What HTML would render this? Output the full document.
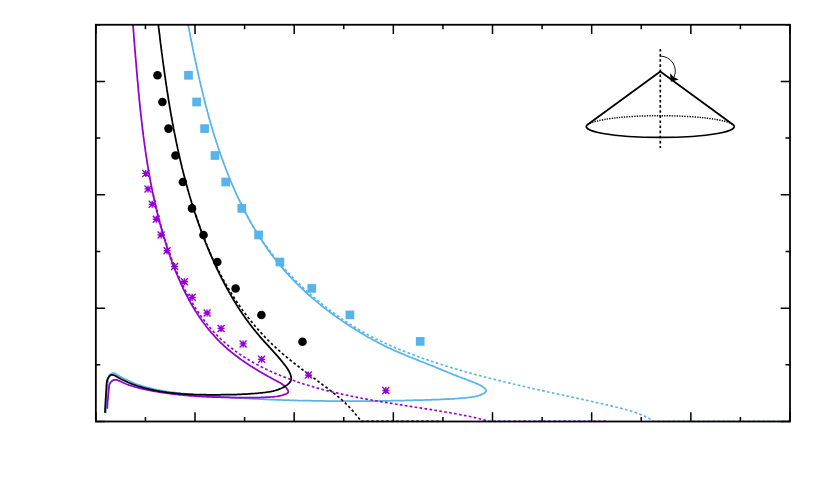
<!DOCTYPE html>
<html><head><meta charset="utf-8"><title>chart</title>
<style>html,body{margin:0;padding:0;background:#fff;overflow:hidden;font-family:"Liberation Sans",sans-serif;}svg{display:block;position:absolute;left:0;top:0}</style></head>
<body>
<svg width="830" height="498" viewBox="0 0 830 498">
<rect width="830" height="498" fill="#ffffff"/>
<defs><clipPath id="c"><rect x="95.85" y="24.75" width="694.15" height="397.75"/></clipPath></defs>
<g clip-path="url(#c)" fill="none" stroke-linejoin="round">
<path d="M183.5 -0.0L183.7 1.2L183.9 2.4L184.1 3.5L184.3 4.7L184.6 5.9L184.8 7.1L185.0 8.3L185.2 9.5L185.5 10.6L185.7 11.8L185.9 13.0L186.1 14.2L186.4 15.4L186.6 16.6L186.8 17.7L187.0 18.9L187.3 20.1L187.5 21.3L187.7 22.5L187.9 23.7L188.2 24.8L188.4 26.0L188.6 27.2L188.9 28.4L189.1 29.6L189.3 30.7L189.5 31.9L189.8 33.1L190.0 34.3L190.2 35.5L190.5 36.7L190.7 37.8L190.9 39.0L191.2 40.2L191.4 41.4L191.6 42.6L191.9 43.7L192.1 44.9L192.3 46.1L192.6 47.3L192.8 48.4L193.1 49.6L193.3 50.8L193.5 52.0L193.8 53.2L194.0 54.3L194.3 55.5L194.5 56.7L194.8 57.9L195.0 59.0L195.3 60.2L195.5 61.4L195.8 62.6L196.0 63.8L196.3 64.9L196.5 66.1L196.8 67.3L197.0 68.5L197.3 69.6L197.5 70.8L197.8 72.0L198.1 73.1L198.3 74.3L198.6 75.5L198.8 76.7L199.1 77.8L199.4 79.0L199.6 80.2L199.9 81.3L200.2 82.5L200.5 83.7L200.7 84.9L201.0 86.0L201.3 87.2L201.6 88.4L201.8 89.5L202.1 90.7L202.4 91.9L202.7 93.0L203.0 94.2L203.3 95.4L203.5 96.5L203.8 97.7L204.1 98.9L204.4 100.0L204.7 101.2L205.0 102.3L205.3 103.5L205.6 104.7L205.9 105.8L206.2 107.0L206.5 108.1L206.8 109.3L207.1 110.5L207.4 111.6L207.8 112.8L208.1 113.9L208.4 115.1L208.7 116.3L209.0 117.4L209.3 118.6L209.7 119.7L210.0 120.9L210.3 122.0L210.7 123.2L211.0 124.3L211.3 125.5L211.7 126.6L212.0 127.8L212.3 128.9L212.7 130.1L213.0 131.2L213.4 132.4L213.7 133.5L214.1 134.7L214.4 135.8L214.8 137.0L215.2 138.1L215.5 139.3L215.9 140.4L216.2 141.5L216.6 142.7L217.0 143.8L217.4 145.0L217.7 146.1L218.1 147.2L218.5 148.4L218.9 149.5L219.3 150.7L219.7 151.8L220.0 152.9L220.4 154.1L220.8 155.2L221.2 156.3L221.6 157.5L222.0 158.6L222.4 159.7L222.9 160.9L223.3 162.0L223.7 163.1L224.1 164.3L224.5 165.4L225.0 166.5L225.4 167.6L225.8 168.8L226.2 169.9L226.7 171.0L227.1 172.1L227.6 173.3L228.0 174.4L228.5 175.5L228.9 176.6L229.4 177.7L229.8 178.9L230.3 180.0L230.7 181.1L231.2 182.2L231.7 183.3L232.1 184.4L232.6 185.5L233.1 186.6L233.6 187.7L234.1 188.9L234.5 190.0L235.0 191.1L235.5 192.2L236.0 193.3L236.5 194.4L237.0 195.5L237.5 196.6L238.1 197.7L238.6 198.8L239.1 199.8L239.6 200.9L240.1 202.0L240.7 203.1L241.2 204.2L241.7 205.3L242.3 206.4L242.8 207.4L243.3 208.5L243.9 209.6L244.4 210.7L245.0 211.7L245.6 212.8L246.1 213.9L246.7 214.9L247.3 216.0L247.8 217.1L248.4 218.1L249.0 219.2L249.6 220.2L250.1 221.3L250.7 222.3L251.3 223.4L251.9 224.4L252.5 225.5L253.1 226.5L253.7 227.6L254.4 228.6L255.0 229.6L255.6 230.7L256.2 231.7L256.8 232.7L257.5 233.8L258.1 234.8L258.8 235.8L259.4 236.8L260.0 237.8L260.7 238.8L261.3 239.8L262.0 240.8L262.7 241.8L263.3 242.8L264.0 243.8L264.7 244.8L265.4 245.8L266.0 246.8L266.7 247.8L267.4 248.8L268.1 249.8L268.8 250.7L269.5 251.7L270.2 252.7L270.9 253.6L271.7 254.6L272.4 255.6L273.1 256.5L273.8 257.5L274.6 258.4L275.3 259.4L276.0 260.3L276.8 261.2L277.5 262.2L278.3 263.1L279.0 264.0L279.8 265.0L280.6 265.9L281.3 266.8L282.1 267.7L282.9 268.6L283.7 269.5L284.5 270.4L285.2 271.3L286.0 272.2L286.8 273.1L287.6 274.0L288.5 274.9L289.3 275.8L290.1 276.7L290.9 277.5L291.7 278.4L292.6 279.3L293.4 280.1L294.2 281.0L295.1 281.8L295.9 282.7L296.7 283.6L297.6 284.4L298.4 285.2L299.3 286.1L300.2 286.9L301.0 287.7L301.9 288.6L302.8 289.4L303.6 290.2L304.5 291.0L305.4 291.9L306.3 292.7L307.2 293.5L308.1 294.3L309.0 295.1L309.9 295.9L310.8 296.7L311.7 297.5L312.6 298.2L313.5 299.0L314.4 299.8L315.3 300.6L316.2 301.4L317.2 302.1L318.1 302.9L319.0 303.6L320.0 304.4L320.9 305.2L321.8 305.9L322.8 306.7L323.7 307.4L324.7 308.2L325.6 308.9L326.6 309.6L327.5 310.4L328.5 311.1L329.5 311.8L330.4 312.5L331.4 313.2L332.4 314.0L333.3 314.7L334.3 315.4L335.3 316.1L336.3 316.8L337.2 317.5L338.2 318.2L339.2 318.9L340.2 319.6L341.2 320.2L342.2 320.9L343.2 321.6L344.2 322.3L345.2 322.9L346.2 323.6L347.2 324.3L348.2 324.9L349.2 325.6L350.2 326.3L351.2 326.9L352.2 327.5L353.3 328.2L354.3 328.8L355.3 329.5L356.3 330.1L357.4 330.7L358.4 331.4L359.4 332.0L360.4 332.6L361.5 333.2L362.5 333.8L363.5 334.5L364.6 335.1L365.6 335.7L366.7 336.3L367.7 336.9L368.8 337.5L369.8 338.0L370.9 338.6L371.9 339.2L373.0 339.8L374.0 340.4L375.1 340.9L376.1 341.5L377.2 342.1L378.3 342.6L379.3 343.2L380.4 343.7L381.5 344.3L382.5 344.8L383.6 345.4L384.7 345.9L385.8 346.4L386.8 346.9L387.9 347.5L389.0 348.0L390.1 348.5L391.2 349.0L392.3 349.5L393.4 350.0L394.4 350.5L395.5 351.0L396.6 351.5L397.7 351.9L398.8 352.4L399.9 352.9L401.1 353.4L402.2 353.8L403.3 354.3L404.4 354.8L405.5 355.2L406.6 355.7L407.7 356.1L408.8 356.6L409.9 357.0L411.1 357.5L412.2 357.9L413.3 358.4L414.4 358.8L415.5 359.2L416.6 359.7L417.8 360.1L418.9 360.6L420.0 361.0L421.1 361.5L422.2 361.9L423.3 362.3L424.5 362.8L425.6 363.2L426.7 363.7L427.8 364.1L428.9 364.6L430.0 365.0L431.2 365.5L432.3 365.9L433.4 366.4L434.5 366.8L435.6 367.3L436.7 367.7L437.8 368.2L438.9 368.6L440.1 369.1L441.2 369.6L442.3 370.0L443.4 370.5L444.5 370.9L445.6 371.4L446.7 371.8L447.8 372.3L448.9 372.8L450.1 373.2L451.2 373.7L452.3 374.1L453.4 374.6L454.5 375.0L455.6 375.4L456.7 375.9L457.9 376.3L459.0 376.8L460.1 377.2L461.2 377.6L462.3 378.1L463.5 378.5L464.6 378.9L465.7 379.3L466.8 379.7L467.9 380.2L469.1 380.6L470.2 381.0L471.3 381.4L472.5 381.8L473.6 382.2L474.7 382.7L475.8 383.1L476.9 383.6L478.0 384.2L479.2 384.7L480.3 385.3L481.3 386.0L482.4 386.6L483.5 387.4L484.5 388.2L485.3 389.0L485.9 389.8L486.1 390.6L485.9 391.4L485.3 392.2L484.4 392.9L483.4 393.5L482.3 394.1L481.2 394.7L480.0 395.1L478.9 395.5L477.7 395.9L476.5 396.2L475.3 396.5L474.2 396.7L473.0 396.9L471.8 397.1L470.6 397.3L469.3 397.4L468.1 397.5L466.9 397.7L465.7 397.8L464.5 397.9L463.3 398.0L462.1 398.1L460.9 398.2L459.7 398.3L458.5 398.4L457.3 398.5L456.1 398.6L454.9 398.7L453.7 398.8L452.5 398.8L451.3 398.9L450.1 399.0L448.9 399.0L447.6 399.1L446.4 399.2L445.2 399.2L444.0 399.3L442.8 399.3L441.6 399.4L440.4 399.4L439.2 399.5L438.0 399.5L436.8 399.6L435.6 399.6L434.4 399.6L433.2 399.7L432.0 399.7L430.8 399.8L429.6 399.8L428.4 399.8L427.2 399.9L426.0 399.9L424.8 399.9L423.6 400.0L422.4 400.0L421.2 400.0L420.0 400.1L418.8 400.1L417.6 400.1L416.4 400.2L415.2 400.2L414.0 400.2L412.8 400.3L411.6 400.3L410.4 400.3L409.2 400.4L408.0 400.4L406.8 400.4L405.6 400.4L404.4 400.5L403.2 400.5L402.0 400.5L400.8 400.5L399.6 400.6L398.4 400.6L397.2 400.6L396.0 400.6L394.8 400.7L393.6 400.7L392.4 400.7L391.2 400.7L390.0 400.8L388.8 400.8L387.6 400.8L386.4 400.8L385.2 400.8L384.0 400.8L382.8 400.9L381.6 400.9L380.4 400.9L379.2 400.9L378.0 400.9L376.8 400.9L375.6 401.0L374.4 401.0L373.2 401.0L372.0 401.0L370.8 401.0L369.6 401.0L368.4 401.0L367.2 401.0L366.0 401.0L364.8 401.1L363.6 401.1L362.4 401.1L361.2 401.1L360.0 401.1L358.8 401.1L357.6 401.1L356.4 401.1L355.2 401.1L354.0 401.1L352.7 401.1L351.5 401.1L350.3 401.1L349.1 401.1L347.9 401.1L346.7 401.1L345.5 401.1L344.3 401.1L343.1 401.1L341.9 401.1L340.7 401.1L339.5 401.1L338.3 401.1L337.1 401.1L335.9 401.1L334.7 401.1L333.5 401.0L332.3 401.0L331.1 401.0L329.9 401.0L328.7 401.0L327.5 401.0L326.3 401.0L325.1 401.0L323.9 400.9L322.7 400.9L321.5 400.9L320.3 400.9L319.1 400.9L317.9 400.9L316.7 400.8L315.5 400.8L314.3 400.8L313.1 400.8L311.9 400.8L310.7 400.7L309.5 400.7L308.3 400.7L307.1 400.7L305.9 400.6L304.7 400.6L303.5 400.6L302.3 400.6L301.1 400.5L299.9 400.5L298.7 400.5L297.5 400.5L296.3 400.4L295.1 400.4L293.9 400.4L292.7 400.3L291.5 400.3L290.3 400.3L289.1 400.2L287.9 400.2L286.7 400.1L285.5 400.1L284.3 400.1L283.1 400.0L281.9 400.0L280.7 399.9L279.5 399.9L278.3 399.9L277.1 399.8L275.9 399.8L274.7 399.7L273.5 399.7L272.3 399.6L271.1 399.6L269.9 399.5L268.7 399.5L267.5 399.4L266.3 399.4L265.1 399.3L263.9 399.3L262.7 399.2L261.5 399.2L260.3 399.1L259.1 399.1L257.9 399.0L256.7 398.9L255.5 398.9L254.3 398.8L253.1 398.8L251.9 398.7L250.7 398.6L249.5 398.6L248.3 398.5L247.0 398.4L245.8 398.4L244.6 398.3L243.4 398.2L242.2 398.2L241.0 398.1L239.8 398.0L238.6 398.0L237.4 397.9L236.2 397.8L235.0 397.7L233.8 397.7L232.6 397.6L231.4 397.5L230.2 397.4L229.0 397.4L227.8 397.3L226.6 397.2L225.4 397.1L224.2 397.0L223.0 396.9L221.8 396.9L220.6 396.8L219.4 396.7L218.2 396.6L217.0 396.5L215.8 396.4L214.6 396.3L213.4 396.2L212.2 396.1L211.0 396.1L209.8 396.0L208.6 395.9L207.4 395.8L206.2 395.7L205.0 395.6L203.8 395.5L202.6 395.4L201.4 395.3L200.1 395.2L198.9 395.1L197.7 395.0L196.5 394.9L195.3 394.8L194.1 394.6L192.9 394.5L191.7 394.4L190.5 394.3L189.3 394.2L188.1 394.1L186.9 394.0L185.7 393.9L184.5 393.7L183.3 393.6L182.1 393.5L180.9 393.3L179.7 393.2L178.5 393.1L177.3 392.9L176.1 392.8L174.9 392.6L173.7 392.5L172.5 392.3L171.3 392.2L170.2 392.0L169.0 391.8L167.8 391.6L166.6 391.5L165.4 391.3L164.2 391.1L163.0 390.9L161.9 390.7L160.7 390.5L159.5 390.2L158.3 390.0L157.2 389.8L156.0 389.5L154.8 389.3L153.7 389.0L152.5 388.7L151.3 388.5L150.2 388.2L149.0 387.9L147.9 387.6L146.7 387.3L145.6 387.0L144.4 386.6L143.3 386.3L142.2 386.0L141.0 385.6L139.9 385.2L138.8 384.9L137.7 384.5L136.5 384.1L135.4 383.7L134.3 383.2L133.2 382.8L132.1 382.4L131.0 381.9L129.9 381.4L128.8 380.9L127.7 380.4L126.6 379.9L125.5 379.4L124.4 378.8L123.3 378.3L122.2 377.7L121.2 377.1L120.1 376.5L119.0 375.8L117.9 375.2L116.9 374.5L115.8 373.9L114.8 373.4L113.7 373.2L112.6 373.2L111.6 373.5L110.7 374.1L109.8 374.9L109.2 375.9L108.7 377.0L108.4 378.2L108.1 379.5L108.0 380.8L107.8 382.1L107.6 383.4L107.5 384.6L107.4 385.9L107.3 387.1L107.1 388.2L107.0 389.4L106.9 390.6L106.8 391.7L106.7 392.9L106.7 394.0L106.6 395.2L106.5 396.4L106.4 397.6L106.4 398.7L106.3 399.9L106.2 401.1L106.2 402.4L106.1 403.6L106.0 404.8L106.0 406.0L105.9 407.2L105.9 408.4L105.9 409.6L105.8 410.8L105.8 412.0L105.8 413.2" stroke="#56B4E9" stroke-width="1.75"/>
<path d="M130.8 -0.0L130.9 1.2L131.0 2.4L131.1 3.6L131.2 4.8L131.3 6.0L131.4 7.2L131.5 8.4L131.6 9.6L131.7 10.8L131.8 12.0L132.0 13.2L132.1 14.4L132.2 15.6L132.3 16.8L132.4 18.0L132.5 19.2L132.6 20.4L132.7 21.6L132.8 22.8L132.9 24.0L133.0 25.2L133.1 26.4L133.2 27.6L133.3 28.8L133.4 30.0L133.5 31.2L133.6 32.4L133.7 33.6L133.8 34.8L133.8 36.0L133.9 37.2L134.0 38.4L134.1 39.6L134.2 40.8L134.3 42.0L134.4 43.2L134.5 44.4L134.6 45.6L134.7 46.8L134.8 48.0L134.9 49.2L135.0 50.4L135.1 51.6L135.2 52.8L135.3 54.0L135.4 55.2L135.5 56.4L135.6 57.6L135.7 58.8L135.8 60.0L135.9 61.2L136.0 62.4L136.1 63.6L136.2 64.8L136.3 66.0L136.4 67.2L136.5 68.4L136.6 69.6L136.7 70.8L136.8 72.0L136.9 73.2L137.0 74.4L137.1 75.6L137.2 76.8L137.3 78.0L137.4 79.2L137.5 80.4L137.6 81.6L137.8 82.8L137.9 84.0L138.0 85.2L138.1 86.4L138.2 87.6L138.3 88.8L138.4 90.0L138.5 91.2L138.6 92.4L138.7 93.6L138.9 94.8L139.0 96.0L139.1 97.2L139.2 98.4L139.3 99.6L139.4 100.8L139.6 102.0L139.7 103.2L139.8 104.4L139.9 105.6L140.0 106.8L140.2 108.0L140.3 109.2L140.4 110.4L140.5 111.5L140.7 112.7L140.8 113.9L140.9 115.1L141.1 116.3L141.2 117.5L141.3 118.7L141.5 119.9L141.6 121.1L141.7 122.3L141.9 123.5L142.0 124.7L142.2 125.9L142.3 127.1L142.4 128.3L142.6 129.5L142.7 130.7L142.9 131.8L143.0 133.0L143.2 134.2L143.3 135.4L143.5 136.6L143.6 137.8L143.8 139.0L144.0 140.2L144.1 141.4L144.3 142.6L144.4 143.8L144.6 144.9L144.8 146.1L144.9 147.3L145.1 148.5L145.3 149.7L145.4 150.9L145.6 152.1L145.8 153.3L146.0 154.5L146.1 155.6L146.3 156.8L146.5 158.0L146.7 159.2L146.9 160.4L147.1 161.6L147.2 162.8L147.4 163.9L147.6 165.1L147.8 166.3L148.0 167.5L148.2 168.7L148.4 169.9L148.6 171.0L148.8 172.2L149.0 173.4L149.2 174.6L149.5 175.8L149.7 177.0L149.9 178.1L150.1 179.3L150.3 180.5L150.5 181.7L150.8 182.9L151.0 184.0L151.2 185.2L151.5 186.4L151.7 187.6L151.9 188.8L152.2 189.9L152.4 191.1L152.6 192.3L152.9 193.5L153.1 194.6L153.4 195.8L153.6 197.0L153.9 198.2L154.1 199.3L154.4 200.5L154.7 201.7L154.9 202.9L155.2 204.0L155.4 205.2L155.7 206.4L156.0 207.5L156.3 208.7L156.5 209.9L156.8 211.0L157.1 212.2L157.4 213.4L157.7 214.6L158.0 215.7L158.3 216.9L158.6 218.1L158.9 219.2L159.2 220.4L159.5 221.6L159.8 222.7L160.1 223.9L160.4 225.0L160.7 226.2L161.0 227.4L161.4 228.5L161.7 229.7L162.0 230.9L162.4 232.0L162.7 233.2L163.0 234.3L163.4 235.5L163.7 236.7L164.1 237.8L164.4 239.0L164.8 240.1L165.1 241.3L165.5 242.4L165.8 243.6L166.2 244.8L166.6 245.9L166.9 247.1L167.3 248.2L167.7 249.4L168.1 250.5L168.5 251.7L168.8 252.8L169.2 254.0L169.6 255.1L170.0 256.3L170.4 257.4L170.8 258.6L171.2 259.7L171.7 260.8L172.1 262.0L172.5 263.1L172.9 264.3L173.3 265.4L173.8 266.5L174.2 267.7L174.7 268.8L175.1 269.9L175.5 271.1L176.0 272.2L176.5 273.3L176.9 274.4L177.4 275.5L177.9 276.7L178.3 277.8L178.8 278.9L179.3 280.0L179.8 281.1L180.3 282.2L180.8 283.3L181.3 284.4L181.8 285.5L182.3 286.6L182.8 287.7L183.3 288.8L183.8 289.9L184.4 291.0L184.9 292.0L185.4 293.1L186.0 294.2L186.5 295.3L187.1 296.3L187.7 297.4L188.2 298.5L188.8 299.5L189.4 300.6L189.9 301.6L190.5 302.7L191.1 303.7L191.7 304.7L192.3 305.8L192.9 306.8L193.5 307.8L194.2 308.9L194.8 309.9L195.4 310.9L196.1 311.9L196.7 312.9L197.3 313.9L198.0 314.9L198.7 315.9L199.3 316.9L200.0 317.9L200.7 318.9L201.4 319.8L202.0 320.8L202.7 321.8L203.4 322.7L204.2 323.7L204.9 324.6L205.6 325.6L206.3 326.5L207.1 327.5L207.8 328.4L208.5 329.3L209.3 330.2L210.1 331.1L210.8 332.1L211.6 333.0L212.4 333.9L213.2 334.7L214.0 335.6L214.8 336.5L215.6 337.4L216.4 338.3L217.2 339.1L218.0 340.0L218.9 340.8L219.7 341.7L220.5 342.5L221.4 343.3L222.3 344.2L223.1 345.0L224.0 345.8L224.9 346.6L225.8 347.4L226.7 348.2L227.6 349.0L228.5 349.8L229.4 350.5L230.4 351.3L231.3 352.1L232.2 352.8L233.2 353.6L234.1 354.3L235.1 355.1L236.0 355.8L237.0 356.5L238.0 357.3L239.0 358.0L239.9 358.7L240.9 359.4L241.9 360.1L242.9 360.8L243.9 361.5L244.9 362.2L245.9 362.9L246.9 363.5L248.0 364.2L249.0 364.9L250.0 365.5L251.0 366.2L252.1 366.8L253.1 367.5L254.1 368.1L255.2 368.8L256.2 369.4L257.3 370.1L258.3 370.7L259.3 371.3L260.4 371.9L261.5 372.5L262.5 373.2L263.6 373.8L264.6 374.4L265.7 375.0L266.7 375.6L267.8 376.2L268.9 376.8L269.9 377.3L271.0 377.9L272.0 378.5L273.1 379.1L274.2 379.7L275.2 380.2L276.3 380.8L277.4 381.4L278.4 381.9L279.5 382.5L280.5 383.1L281.5 383.7L282.5 384.4L283.4 385.1L284.3 385.8L285.2 386.6L286.0 387.5L286.7 388.4L287.4 389.4L288.0 390.4L288.3 391.4L288.2 392.3L287.6 393.1L286.5 393.7L285.4 394.2L284.2 394.6L283.0 395.0L281.8 395.4L280.6 395.7L279.4 395.9L278.2 396.2L277.0 396.4L275.8 396.5L274.6 396.7L273.4 396.8L272.2 396.9L271.0 397.0L269.8 397.1L268.5 397.1L267.3 397.2L266.1 397.2L264.9 397.3L263.7 397.3L262.5 397.4L261.3 397.4L260.1 397.5L258.9 397.5L257.7 397.5L256.5 397.5L255.3 397.6L254.1 397.6L252.9 397.6L251.7 397.6L250.5 397.6L249.3 397.6L248.1 397.6L246.9 397.6L245.7 397.6L244.5 397.6L243.3 397.6L242.2 397.6L241.0 397.6L239.8 397.6L238.6 397.6L237.4 397.6L236.2 397.6L235.0 397.5L233.8 397.5L232.6 397.5L231.4 397.5L230.2 397.5L229.0 397.4L227.8 397.4L226.6 397.4L225.4 397.4L224.2 397.3L223.0 397.3L221.8 397.3L220.6 397.2L219.4 397.2L218.2 397.2L217.0 397.1L215.8 397.1L214.6 397.0L213.4 397.0L212.1 397.0L210.9 396.9L209.7 396.9L208.5 396.8L207.3 396.8L206.1 396.7L204.9 396.6L203.7 396.6L202.5 396.5L201.3 396.5L200.1 396.4L198.9 396.3L197.6 396.3L196.4 396.2L195.2 396.1L194.0 396.0L192.8 395.9L191.6 395.8L190.4 395.8L189.2 395.7L188.0 395.6L186.8 395.5L185.6 395.4L184.4 395.3L183.2 395.1L182.0 395.0L180.8 394.9L179.6 394.8L178.4 394.7L177.2 394.5L176.0 394.4L174.8 394.3L173.6 394.1L172.4 394.0L171.2 393.8L170.0 393.7L168.8 393.5L167.6 393.4L166.4 393.2L165.2 393.0L164.0 392.9L162.8 392.7L161.6 392.5L160.4 392.3L159.3 392.1L158.1 391.9L156.9 391.7L155.7 391.5L154.5 391.3L153.4 391.1L152.2 390.9L151.0 390.6L149.8 390.4L148.7 390.2L147.5 389.9L146.3 389.7L145.2 389.4L144.0 389.2L142.9 388.9L141.7 388.6L140.5 388.3L139.4 388.1L138.2 387.8L137.1 387.5L135.9 387.2L134.8 386.9L133.6 386.5L132.5 386.2L131.4 385.8L130.2 385.5L129.1 385.1L127.9 384.6L126.8 384.2L125.6 383.7L124.5 383.2L123.4 382.7L122.2 382.2L121.1 381.6L119.9 381.1L118.8 380.6L117.7 380.2L116.5 379.9L115.4 379.8L114.4 379.9L113.3 380.2L112.3 380.8L111.3 381.5L110.5 382.5L109.9 383.5L109.4 384.7L109.2 385.9L109.0 387.1L108.9 388.3L108.8 389.5L108.7 390.7L108.6 391.9L108.5 393.1L108.3 394.3L108.2 395.5L108.1 396.7L108.0 397.9L107.9 399.1L107.7 400.3L107.6 401.5L107.5 402.7L107.5 403.9L107.4 405.1L107.4 406.3L107.3 407.5L107.3 408.7" stroke="#9400D3" stroke-width="1.75"/>
<path d="M155.5 0.1L155.6 1.3L155.7 2.5L155.9 3.6L156.0 4.8L156.1 6.0L156.3 7.2L156.4 8.4L156.5 9.6L156.7 10.8L156.8 11.9L157.0 13.1L157.1 14.3L157.2 15.5L157.4 16.7L157.5 17.9L157.7 19.1L157.8 20.3L157.9 21.4L158.1 22.6L158.2 23.8L158.4 25.0L158.5 26.2L158.6 27.4L158.8 28.6L158.9 29.8L159.1 31.0L159.2 32.2L159.4 33.4L159.5 34.5L159.7 35.7L159.8 36.9L159.9 38.1L160.1 39.3L160.2 40.5L160.4 41.7L160.5 42.9L160.7 44.1L160.8 45.3L161.0 46.5L161.1 47.7L161.3 48.9L161.4 50.1L161.6 51.2L161.7 52.4L161.9 53.6L162.1 54.8L162.2 56.0L162.4 57.2L162.5 58.4L162.7 59.6L162.8 60.8L163.0 62.0L163.2 63.2L163.3 64.4L163.5 65.6L163.7 66.8L163.8 68.0L164.0 69.1L164.2 70.3L164.3 71.5L164.5 72.7L164.7 73.9L164.8 75.1L165.0 76.3L165.2 77.5L165.3 78.7L165.5 79.9L165.7 81.1L165.9 82.3L166.0 83.5L166.2 84.7L166.4 85.9L166.6 87.0L166.8 88.2L166.9 89.4L167.1 90.6L167.3 91.8L167.5 93.0L167.7 94.2L167.9 95.4L168.1 96.6L168.2 97.8L168.4 99.0L168.6 100.2L168.8 101.3L169.0 102.5L169.2 103.7L169.4 104.9L169.6 106.1L169.8 107.3L170.0 108.5L170.2 109.7L170.4 110.9L170.6 112.1L170.8 113.2L171.0 114.4L171.2 115.6L171.5 116.8L171.7 118.0L171.9 119.2L172.1 120.4L172.3 121.5L172.5 122.7L172.8 123.9L173.0 125.1L173.2 126.3L173.4 127.5L173.6 128.7L173.9 129.8L174.1 131.0L174.3 132.2L174.6 133.4L174.8 134.6L175.0 135.8L175.3 136.9L175.5 138.1L175.8 139.3L176.0 140.5L176.2 141.7L176.5 142.8L176.7 144.0L177.0 145.2L177.2 146.4L177.5 147.6L177.7 148.7L178.0 149.9L178.2 151.1L178.5 152.3L178.8 153.4L179.0 154.6L179.3 155.8L179.6 157.0L179.8 158.1L180.1 159.3L180.4 160.5L180.6 161.6L180.9 162.8L181.2 164.0L181.5 165.2L181.8 166.3L182.0 167.5L182.3 168.7L182.6 169.8L182.9 171.0L183.2 172.2L183.5 173.3L183.8 174.5L184.1 175.7L184.4 176.8L184.7 178.0L185.0 179.1L185.3 180.3L185.6 181.5L185.9 182.6L186.2 183.8L186.6 184.9L186.9 186.1L187.2 187.3L187.5 188.4L187.8 189.6L188.2 190.7L188.5 191.9L188.8 193.0L189.2 194.2L189.5 195.4L189.8 196.5L190.2 197.7L190.5 198.8L190.9 200.0L191.2 201.1L191.5 202.3L191.9 203.4L192.3 204.5L192.6 205.7L193.0 206.8L193.3 208.0L193.7 209.1L194.1 210.3L194.4 211.4L194.8 212.6L195.2 213.7L195.6 214.8L195.9 216.0L196.3 217.1L196.7 218.2L197.1 219.4L197.5 220.5L197.9 221.7L198.3 222.8L198.7 223.9L199.1 225.0L199.5 226.2L199.9 227.3L200.3 228.4L200.7 229.6L201.1 230.7L201.5 231.8L201.9 232.9L202.3 234.1L202.8 235.2L203.2 236.3L203.6 237.4L204.1 238.6L204.5 239.7L204.9 240.8L205.4 241.9L205.8 243.0L206.3 244.1L206.7 245.3L207.2 246.4L207.6 247.5L208.1 248.6L208.5 249.7L209.0 250.8L209.5 251.9L209.9 253.0L210.4 254.1L210.9 255.2L211.4 256.3L211.8 257.4L212.3 258.5L212.8 259.6L213.3 260.7L213.8 261.8L214.3 262.9L214.8 264.0L215.3 265.1L215.8 266.2L216.3 267.3L216.8 268.4L217.3 269.5L217.9 270.6L218.4 271.7L218.9 272.7L219.4 273.8L220.0 274.9L220.5 276.0L221.0 277.1L221.6 278.2L222.1 279.2L222.7 280.3L223.2 281.4L223.8 282.4L224.4 283.5L224.9 284.6L225.5 285.6L226.1 286.7L226.6 287.8L227.2 288.8L227.8 289.9L228.4 290.9L229.0 292.0L229.6 293.0L230.2 294.1L230.8 295.1L231.4 296.2L232.0 297.2L232.6 298.2L233.2 299.3L233.8 300.3L234.4 301.3L235.1 302.4L235.7 303.4L236.3 304.4L237.0 305.4L237.6 306.4L238.3 307.5L238.9 308.5L239.6 309.5L240.2 310.5L240.9 311.5L241.6 312.5L242.2 313.5L242.9 314.5L243.6 315.5L244.3 316.4L245.0 317.4L245.7 318.4L246.4 319.4L247.1 320.4L247.8 321.3L248.5 322.3L249.2 323.3L249.9 324.2L250.7 325.2L251.4 326.1L252.1 327.1L252.9 328.0L253.6 329.0L254.4 329.9L255.1 330.8L255.9 331.8L256.6 332.7L257.4 333.6L258.2 334.5L259.0 335.5L259.7 336.4L260.5 337.3L261.3 338.2L262.1 339.1L262.9 340.0L263.7 340.9L264.5 341.8L265.3 342.7L266.1 343.6L267.0 344.4L267.8 345.3L268.6 346.2L269.4 347.1L270.2 348.0L271.0 348.9L271.8 349.8L272.6 350.7L273.4 351.6L274.2 352.4L275.0 353.3L275.8 354.2L276.6 355.1L277.4 356.0L278.2 356.9L279.0 357.9L279.8 358.8L280.6 359.7L281.3 360.6L282.1 361.5L282.8 362.5L283.6 363.4L284.3 364.4L285.1 365.3L285.8 366.3L286.5 367.2L287.2 368.2L287.8 369.2L288.4 370.3L289.0 371.3L289.6 372.4L290.1 373.6L290.5 374.8L290.9 376.0L291.1 377.2L291.2 378.4L291.1 379.5L290.8 380.6L290.3 381.6L289.7 382.5L288.9 383.4L288.0 384.2L287.1 384.9L286.1 385.6L285.1 386.3L284.1 386.9L283.1 387.4L282.0 388.0L280.9 388.5L279.8 388.9L278.7 389.4L277.5 389.8L276.4 390.1L275.2 390.5L274.0 390.8L272.9 391.1L271.7 391.3L270.5 391.6L269.2 391.8L268.0 392.0L266.8 392.2L265.6 392.4L264.4 392.5L263.1 392.7L261.9 392.8L260.7 392.9L259.4 393.0L258.2 393.2L257.0 393.3L255.8 393.4L254.6 393.5L253.4 393.6L252.2 393.7L251.0 393.7L249.8 393.8L248.6 393.9L247.4 394.0L246.2 394.0L245.0 394.1L243.8 394.2L242.7 394.2L241.5 394.3L240.3 394.3L239.1 394.4L237.9 394.4L236.8 394.5L235.6 394.5L234.4 394.5L233.2 394.6L232.0 394.6L230.9 394.6L229.7 394.6L228.5 394.7L227.3 394.7L226.1 394.7L225.0 394.7L223.8 394.7L222.6 394.7L221.4 394.7L220.2 394.8L219.0 394.8L217.8 394.8L216.6 394.8L215.4 394.8L214.2 394.8L213.0 394.8L211.8 394.8L210.6 394.8L209.4 394.8L208.2 394.8L207.0 394.8L205.8 394.7L204.6 394.7L203.3 394.7L202.1 394.7L200.9 394.7L199.7 394.6L198.5 394.6L197.3 394.6L196.0 394.6L194.8 394.5L193.6 394.5L192.4 394.4L191.2 394.4L189.9 394.3L188.7 394.3L187.5 394.2L186.3 394.1L185.1 394.1L183.8 394.0L182.6 393.9L181.4 393.8L180.2 393.7L179.0 393.6L177.8 393.5L176.5 393.4L175.3 393.3L174.1 393.2L172.9 393.1L171.7 392.9L170.5 392.8L169.3 392.7L168.1 392.5L166.9 392.4L165.7 392.2L164.5 392.0L163.3 391.9L162.1 391.7L160.9 391.5L159.7 391.3L158.5 391.1L157.3 390.9L156.2 390.6L155.0 390.4L153.8 390.2L152.6 389.9L151.5 389.7L150.3 389.4L149.1 389.2L148.0 388.9L146.8 388.6L145.7 388.3L144.5 388.0L143.4 387.7L142.3 387.4L141.1 387.0L140.0 386.7L138.9 386.4L137.7 386.0L136.6 385.6L135.5 385.2L134.4 384.9L133.3 384.5L132.2 384.1L131.1 383.6L130.0 383.2L128.9 382.8L127.8 382.3L126.8 381.8L125.7 381.3L124.6 380.8L123.5 380.3L122.4 379.7L121.3 379.2L120.2 378.6L119.1 378.0L117.9 377.3L116.8 376.7L115.7 376.0L114.6 375.5L113.5 375.1L112.4 374.9L111.4 374.9L110.5 375.3L109.6 375.9L108.9 376.8L108.2 377.9L107.6 379.0L107.2 380.3L106.9 381.5L106.7 382.7L106.6 383.9L106.5 385.1L106.4 386.3L106.4 387.5L106.3 388.7L106.3 389.9L106.2 391.1L106.1 392.3L106.0 393.5L106.0 394.7L105.9 395.9L105.8 397.1L105.7 398.3L105.6 399.5L105.6 400.7L105.5 401.9L105.4 403.1L105.4 404.3L105.3 405.5L105.2 406.7L105.2 407.9L105.1 409.1L105.1 410.3L105.0 411.5L105.0 412.7" stroke="#000000" stroke-width="1.75"/>
<path d="M240.6 202.9L241.1 204.0L241.6 205.1L242.1 206.2L242.7 207.3L243.2 208.4L243.7 209.5L244.3 210.6L244.9 211.6L245.4 212.7L246.0 213.8L246.5 214.9L247.1 215.9L247.7 217.0L248.3 218.1L248.9 219.1L249.5 220.2L250.1 221.2L250.7 222.3L251.3 223.3L251.9 224.4L252.5 225.4L253.1 226.5L253.7 227.5L254.4 228.5L255.0 229.5L255.6 230.6L256.3 231.6L256.9 232.6L257.6 233.6L258.2 234.6L258.9 235.6L259.6 236.6L260.2 237.7L260.9 238.6L261.6 239.6L262.3 240.6L263.0 241.6L263.6 242.6L264.3 243.6L265.0 244.6L265.7 245.6L266.5 246.5L267.2 247.5L267.9 248.5L268.6 249.4L269.3 250.4L270.1 251.3L270.8 252.3L271.5 253.3L272.3 254.2L273.0 255.1L273.8 256.1L274.5 257.0L275.3 258.0L276.0 258.9L276.8 259.8L277.6 260.7L278.3 261.7L279.1 262.6L279.9 263.5L280.7 264.4L281.5 265.3L282.2 266.2L283.0 267.1L283.8 268.0L284.6 268.9L285.4 269.8L286.3 270.7L287.1 271.6L287.9 272.5L288.7 273.4L289.5 274.2L290.4 275.1L291.2 276.0L292.0 276.8L292.9 277.7L293.7 278.6L294.6 279.4L295.4 280.3L296.3 281.1L297.1 282.0L298.0 282.8L298.8 283.7L299.7 284.5L300.6 285.3L301.4 286.2L302.3 287.0L303.2 287.8L304.1 288.6L305.0 289.5L305.8 290.3L306.7 291.1L307.6 291.9L308.5 292.7L309.4 293.5L310.3 294.3L311.2 295.1L312.1 295.9L313.1 296.7L314.0 297.5L314.9 298.2L315.8 299.0L316.7 299.8L317.7 300.6L318.6 301.3L319.5 302.1L320.5 302.9L321.4 303.6L322.4 304.4L323.3 305.1L324.2 305.9L325.2 306.6L326.1 307.4L327.1 308.1L328.1 308.9L329.0 309.6L330.0 310.3L331.0 311.0L331.9 311.8L332.9 312.5L333.9 313.2L334.9 313.9L335.8 314.6L336.8 315.3L337.8 316.0L338.8 316.7L339.8 317.4L340.8 318.1L341.8 318.8L342.8 319.4L343.8 320.1L344.8 320.8L345.8 321.5L346.8 322.1L347.8 322.8L348.8 323.4L349.8 324.1L350.9 324.7L351.9 325.4L352.9 326.0L353.9 326.7L355.0 327.3L356.0 327.9L357.0 328.5L358.1 329.2L359.1 329.8L360.1 330.4L361.2 331.0L362.2 331.6L363.3 332.2L364.3 332.8L365.4 333.4L366.4 333.9L367.5 334.5L368.6 335.1L369.6 335.7L370.7 336.2L371.8 336.8L372.8 337.3L373.9 337.9L375.0 338.4L376.0 339.0L377.1 339.5L378.2 340.0L379.3 340.6L380.4 341.1L381.5 341.6L382.5 342.1L383.6 342.6L384.7 343.1L385.8 343.6L386.9 344.1L388.0 344.6L389.1 345.1L390.2 345.6L391.3 346.1L392.4 346.6L393.5 347.0L394.6 347.5L395.7 348.0L396.9 348.4L398.0 348.9L399.1 349.3L400.2 349.8L401.3 350.3L402.4 350.7L403.5 351.1L404.7 351.6L405.8 352.0L406.9 352.5L408.0 352.9L409.2 353.3L410.3 353.7L411.4 354.2L412.5 354.6L413.7 355.0L414.8 355.4L415.9 355.8L417.1 356.3L418.2 356.7L419.3 357.1L420.5 357.5L421.6 357.9L422.7 358.3L423.9 358.7L425.0 359.1L426.1 359.5L427.3 359.9L428.4 360.3L429.6 360.6L430.7 361.0L431.8 361.4L433.0 361.8L434.1 362.2L435.3 362.6L436.4 362.9L437.6 363.3L438.7 363.7L439.8 364.0L441.0 364.4L442.1 364.8L443.3 365.1L444.4 365.5L445.6 365.9L446.7 366.2L447.9 366.6L449.0 366.9L450.2 367.3L451.3 367.6L452.5 368.0L453.7 368.3L454.8 368.7L456.0 369.0L457.1 369.3L458.3 369.7L459.4 370.0L460.6 370.4L461.8 370.7L462.9 371.0L464.1 371.3L465.2 371.7L466.4 372.0L467.6 372.3L468.7 372.7L469.9 373.0L471.0 373.3L472.2 373.6L473.4 373.9L474.5 374.3L475.7 374.6L476.9 374.9L478.0 375.2L479.2 375.5L480.4 375.8L481.5 376.1L482.7 376.4L483.9 376.7L485.0 377.0L486.2 377.3L487.4 377.6L488.5 377.9L489.7 378.2L490.9 378.5L492.0 378.8L493.2 379.1L494.4 379.4L495.6 379.7L496.7 380.0L497.9 380.3L499.1 380.6L500.2 380.9L501.4 381.2L502.6 381.4L503.8 381.7L504.9 382.0L506.1 382.3L507.3 382.6L508.5 382.9L509.6 383.1L510.8 383.4L512.0 383.7L513.2 384.0L514.3 384.2L515.5 384.5L516.7 384.8L517.9 385.1L519.0 385.3L520.2 385.6L521.4 385.9L522.6 386.2L523.7 386.4L524.9 386.7L526.1 387.0L527.3 387.2L528.5 387.5L529.6 387.8L530.8 388.0L532.0 388.3L533.2 388.6L534.3 388.8L535.5 389.1L536.7 389.4L537.9 389.6L539.0 389.9L540.2 390.1L541.4 390.4L542.6 390.7L543.8 390.9L544.9 391.2L546.1 391.4L547.3 391.7L548.5 392.0L549.6 392.2L550.8 392.5L552.0 392.7L553.2 393.0L554.4 393.2L555.5 393.5L556.7 393.8L557.9 394.0L559.1 394.3L560.2 394.5L561.4 394.8L562.6 395.0L563.8 395.3L564.9 395.5L566.1 395.8L567.3 396.1L568.5 396.3L569.7 396.6L570.8 396.8L572.0 397.1L573.2 397.3L574.4 397.6L575.5 397.9L576.7 398.1L577.9 398.4L579.1 398.6L580.2 398.9L581.4 399.1L582.6 399.4L583.8 399.7L584.9 399.9L586.1 400.2L587.3 400.4L588.5 400.7L589.7 401.0L590.8 401.2L592.0 401.5L593.2 401.8L594.4 402.0L595.5 402.3L596.7 402.6L597.9 402.8L599.1 403.1L600.2 403.4L601.4 403.6L602.6 403.9L603.8 404.2L604.9 404.5L606.1 404.7L607.3 405.0L608.5 405.3L609.6 405.6L610.8 405.8L612.0 406.1L613.2 406.4L614.4 406.7L615.5 407.0L616.7 407.2L617.9 407.5L619.1 407.8L620.2 408.1L621.4 408.4L622.6 408.7L623.7 409.0L624.9 409.3L626.1 409.7L627.2 410.0L628.4 410.3L629.5 410.7L630.7 411.0L631.8 411.4L633.0 411.7L634.1 412.1L635.3 412.5L636.4 412.9L637.5 413.3L638.6 413.7L639.8 414.2L640.9 414.6L642.0 415.1L643.1 415.6L644.2 416.1L645.3 416.6L646.3 417.1L647.4 417.6L648.5 418.2L649.5 418.8L650.6 419.4L651.6 420.0L652.6 420.6L653.6 421.3L792.0 421.4" stroke="#56B4E9" stroke-width="1.65" stroke-dasharray="2.65 2.35"/>
<path d="M153.4 195.0L153.6 196.2L153.9 197.4L154.2 198.6L154.4 199.7L154.7 200.9L155.0 202.1L155.3 203.3L155.5 204.5L155.8 205.6L156.1 206.8L156.4 208.0L156.7 209.2L157.0 210.3L157.2 211.5L157.5 212.7L157.8 213.8L158.1 215.0L158.4 216.2L158.7 217.3L159.0 218.5L159.3 219.7L159.6 220.8L159.9 222.0L160.3 223.1L160.6 224.3L160.9 225.5L161.2 226.6L161.5 227.8L161.9 228.9L162.2 230.1L162.5 231.2L162.9 232.4L163.2 233.5L163.5 234.6L163.9 235.8L164.2 236.9L164.6 238.1L164.9 239.2L165.3 240.4L165.6 241.5L166.0 242.6L166.4 243.8L166.7 244.9L167.1 246.0L167.5 247.2L167.9 248.3L168.3 249.4L168.6 250.6L169.0 251.7L169.4 252.8L169.8 254.0L170.2 255.1L170.6 256.2L171.1 257.3L171.5 258.5L171.9 259.6L172.3 260.7L172.7 261.8L173.2 262.9L173.6 264.1L174.1 265.2L174.5 266.3L175.0 267.4L175.4 268.5L175.9 269.6L176.3 270.8L176.8 271.9L177.3 273.0L177.8 274.1L178.2 275.2L178.7 276.3L179.2 277.4L179.7 278.5L180.2 279.6L180.7 280.7L181.2 281.8L181.8 282.9L182.3 284.0L182.8 285.1L183.3 286.2L183.9 287.3L184.4 288.4L185.0 289.5L185.5 290.6L186.1 291.6L186.7 292.7L187.2 293.8L187.8 294.9L188.4 295.9L189.0 297.0L189.6 298.0L190.2 299.1L190.8 300.2L191.4 301.2L192.0 302.3L192.6 303.3L193.2 304.3L193.9 305.4L194.5 306.4L195.1 307.4L195.8 308.5L196.5 309.5L197.1 310.5L197.8 311.5L198.5 312.5L199.1 313.5L199.8 314.5L200.5 315.5L201.2 316.5L201.9 317.4L202.6 318.4L203.3 319.4L204.1 320.3L204.8 321.3L205.5 322.2L206.3 323.2L207.0 324.1L207.8 325.0L208.6 326.0L209.3 326.9L210.1 327.8L210.9 328.7L211.7 329.6L212.5 330.5L213.3 331.4L214.1 332.3L214.9 333.1L215.7 334.0L216.6 334.9L217.4 335.7L218.2 336.5L219.1 337.4L219.9 338.2L220.8 339.0L221.7 339.8L222.6 340.6L223.4 341.4L224.3 342.2L225.2 343.0L226.1 343.8L227.1 344.6L228.0 345.3L228.9 346.1L229.8 346.8L230.8 347.6L231.7 348.3L232.7 349.0L233.6 349.7L234.6 350.5L235.5 351.2L236.5 351.9L237.5 352.6L238.5 353.2L239.4 353.9L240.4 354.6L241.4 355.3L242.4 355.9L243.4 356.6L244.4 357.2L245.5 357.9L246.5 358.5L247.5 359.1L248.5 359.7L249.6 360.4L250.6 361.0L251.6 361.6L252.7 362.2L253.7 362.8L254.8 363.4L255.8 363.9L256.9 364.5L258.0 365.1L259.0 365.6L260.1 366.2L261.2 366.8L262.3 367.3L263.3 367.8L264.4 368.4L265.5 368.9L266.6 369.4L267.7 369.9L268.8 370.5L269.9 371.0L271.0 371.5L272.1 372.0L273.2 372.5L274.3 372.9L275.4 373.4L276.5 373.9L277.6 374.4L278.8 374.8L279.9 375.3L281.0 375.8L282.1 376.2L283.3 376.7L284.4 377.1L285.5 377.5L286.6 378.0L287.8 378.4L288.9 378.8L290.0 379.3L291.2 379.7L292.3 380.1L293.5 380.5L294.6 380.9L295.7 381.3L296.9 381.7L298.0 382.1L299.2 382.5L300.3 382.8L301.4 383.2L302.6 383.6L303.7 384.0L304.9 384.3L306.0 384.7L307.2 385.0L308.3 385.4L309.5 385.7L310.6 386.1L311.8 386.4L312.9 386.8L314.1 387.1L315.2 387.4L316.4 387.8L317.6 388.1L318.7 388.4L319.9 388.7L321.0 389.0L322.2 389.4L323.4 389.7L324.5 390.0L325.7 390.3L326.8 390.6L328.0 390.9L329.2 391.2L330.3 391.4L331.5 391.7L332.7 392.0L333.8 392.3L335.0 392.6L336.2 392.8L337.3 393.1L338.5 393.4L339.7 393.6L340.9 393.9L342.0 394.2L343.2 394.4L344.4 394.7L345.5 394.9L346.7 395.2L347.9 395.4L349.1 395.7L350.2 395.9L351.4 396.2L352.6 396.4L353.8 396.7L355.0 396.9L356.1 397.1L357.3 397.4L358.5 397.6L359.7 397.8L360.8 398.0L362.0 398.3L363.2 398.5L364.4 398.7L365.6 398.9L366.8 399.2L367.9 399.4L369.1 399.6L370.3 399.8L371.5 400.0L372.7 400.2L373.9 400.4L375.0 400.6L376.2 400.8L377.4 401.0L378.6 401.2L379.8 401.5L381.0 401.7L382.2 401.9L383.3 402.1L384.5 402.3L385.7 402.4L386.9 402.6L388.1 402.8L389.3 403.0L390.5 403.2L391.7 403.4L392.9 403.6L394.0 403.8L395.2 404.0L396.4 404.2L397.6 404.4L398.8 404.6L400.0 404.8L401.2 404.9L402.4 405.1L403.6 405.3L404.7 405.5L405.9 405.7L407.1 405.9L408.3 406.1L409.5 406.3L410.7 406.4L411.9 406.6L413.1 406.8L414.3 407.0L415.5 407.2L416.7 407.4L417.8 407.6L419.0 407.8L420.2 407.9L421.4 408.1L422.6 408.3L423.8 408.5L425.0 408.7L426.2 408.9L427.4 409.1L428.6 409.3L429.7 409.4L430.9 409.6L432.1 409.8L433.3 410.0L434.5 410.2L435.7 410.4L436.9 410.6L438.1 410.8L439.3 411.0L440.4 411.2L441.6 411.4L442.8 411.6L444.0 411.8L445.2 412.0L446.4 412.2L447.6 412.4L448.7 412.6L449.9 412.8L451.1 413.0L452.3 413.2L453.5 413.4L454.7 413.6L455.9 413.8L457.0 414.0L458.2 414.3L459.4 414.5L460.6 414.7L461.8 414.9L462.9 415.1L464.1 415.4L465.3 415.6L466.5 415.8L467.7 416.0L468.8 416.3L470.0 416.5L471.2 416.8L472.4 417.0L473.5 417.3L474.7 417.6L475.9 417.8L477.0 418.1L478.2 418.4L479.4 418.7L480.5 419.0L481.7 419.3L482.8 419.6L484.0 419.9L485.2 420.3L486.3 420.6L487.5 421.0L488.6 421.3L607.0 421.4" stroke="#9400D3" stroke-width="1.65" stroke-dasharray="2.65 2.35"/>
<path d="M196.0 215.0L196.3 216.2L196.7 217.3L197.1 218.4L197.4 219.6L197.8 220.7L198.2 221.9L198.6 223.0L199.0 224.1L199.3 225.3L199.7 226.4L200.1 227.5L200.5 228.7L200.9 229.8L201.4 230.9L201.8 232.1L202.2 233.2L202.6 234.3L203.0 235.4L203.5 236.6L203.9 237.7L204.3 238.8L204.8 239.9L205.2 241.1L205.6 242.2L206.1 243.3L206.6 244.4L207.0 245.5L207.5 246.7L207.9 247.8L208.4 248.9L208.9 250.0L209.4 251.1L209.8 252.2L210.3 253.3L210.8 254.4L211.3 255.5L211.8 256.6L212.3 257.7L212.8 258.8L213.3 259.9L213.8 261.0L214.3 262.1L214.9 263.2L215.4 264.3L215.9 265.4L216.5 266.4L217.0 267.5L217.5 268.6L218.1 269.7L218.6 270.8L219.2 271.8L219.7 272.9L220.3 274.0L220.9 275.1L221.4 276.1L222.0 277.2L222.6 278.2L223.1 279.3L223.7 280.4L224.3 281.4L224.9 282.5L225.5 283.5L226.1 284.6L226.7 285.6L227.3 286.7L227.9 287.7L228.6 288.7L229.2 289.8L229.8 290.8L230.4 291.8L231.1 292.9L231.7 293.9L232.3 294.9L233.0 295.9L233.6 296.9L234.3 298.0L234.9 299.0L235.6 300.0L236.3 301.0L236.9 302.0L237.6 303.0L238.3 304.0L239.0 305.0L239.7 306.0L240.3 306.9L241.0 307.9L241.7 308.9L242.4 309.9L243.2 310.9L243.9 311.8L244.6 312.8L245.3 313.8L246.0 314.7L246.8 315.7L247.5 316.6L248.2 317.6L249.0 318.5L249.7 319.5L250.5 320.4L251.2 321.4L252.0 322.3L252.7 323.2L253.5 324.1L254.3 325.1L255.0 326.0L255.8 326.9L256.6 327.8L257.4 328.7L258.2 329.6L259.0 330.5L259.8 331.4L260.6 332.3L261.4 333.2L262.2 334.1L263.0 335.0L263.9 335.8L264.7 336.7L265.5 337.6L266.4 338.4L267.2 339.3L268.0 340.2L268.9 341.0L269.7 341.9L270.6 342.7L271.5 343.5L272.3 344.4L273.2 345.2L274.1 346.0L275.0 346.8L275.8 347.7L276.7 348.5L277.6 349.3L278.5 350.1L279.4 350.9L280.3 351.7L281.2 352.5L282.1 353.3L283.0 354.1L284.0 354.8L284.9 355.6L285.8 356.4L286.7 357.2L287.7 357.9L288.6 358.7L289.5 359.5L290.5 360.2L291.4 361.0L292.4 361.8L293.3 362.5L294.2 363.3L295.2 364.0L296.1 364.8L297.1 365.5L298.1 366.2L299.0 367.0L300.0 367.7L300.9 368.5L301.9 369.2L302.9 369.9L303.8 370.7L304.8 371.4L305.8 372.1L306.7 372.8L307.7 373.6L308.7 374.3L309.6 375.0L310.6 375.7L311.6 376.5L312.5 377.2L313.5 377.9L314.5 378.6L315.5 379.3L316.4 380.0L317.4 380.8L318.4 381.5L319.3 382.2L320.3 382.9L321.3 383.6L322.2 384.3L323.2 385.1L324.2 385.8L325.1 386.5L326.1 387.2L327.1 387.9L328.0 388.7L329.0 389.4L329.9 390.1L330.9 390.9L331.8 391.6L332.8 392.3L333.7 393.1L334.7 393.8L335.6 394.6L336.5 395.3L337.4 396.1L338.4 396.9L339.3 397.6L340.2 398.4L341.1 399.2L342.0 400.0L342.8 400.8L343.7 401.6L344.6 402.4L345.5 403.2L346.3 404.1L347.2 404.9L348.0 405.7L348.9 406.6L349.7 407.5L350.5 408.3L351.3 409.2L352.1 410.1L352.9 411.0L353.7 411.9L354.5 412.9L355.2 413.8L356.0 414.7L356.8 415.7L357.5 416.6L358.3 417.6L359.0 418.5L359.8 419.5L360.5 420.4L361.2 421.4L440.0 421.4" stroke="#000000" stroke-width="1.65" stroke-dasharray="2.65 2.35"/>
</g>
<g stroke="#9400D3" stroke-width="1.35" fill="none">
<path d="M142.30 173.40H149.30M145.80 169.90V176.90M142.30 169.90L149.30 176.90M142.30 176.90L149.30 169.90"/>
<path d="M144.50 188.90H151.50M148.00 185.40V192.40M144.50 185.40L151.50 192.40M144.50 192.40L151.50 185.40"/>
<path d="M148.70 204.30H155.70M152.20 200.80V207.80M148.70 200.80L155.70 207.80M148.70 207.80L155.70 200.80"/>
<path d="M152.80 219.20H159.80M156.30 215.70V222.70M152.80 215.70L159.80 222.70M152.80 222.70L159.80 215.70"/>
<path d="M157.60 235.00H164.60M161.10 231.50V238.50M157.60 231.50L164.60 238.50M157.60 238.50L164.60 231.50"/>
<path d="M163.60 250.70H170.60M167.10 247.20V254.20M163.60 247.20L170.60 254.20M163.60 254.20L170.60 247.20"/>
<path d="M171.10 266.60H178.10M174.60 263.10V270.10M171.10 263.10L178.10 270.10M171.10 270.10L178.10 263.10"/>
<path d="M180.90 281.70H187.90M184.40 278.20V285.20M180.90 278.20L187.90 285.20M180.90 285.20L187.90 278.20"/>
<path d="M188.70 297.30H195.70M192.20 293.80V300.80M188.70 293.80L195.70 300.80M188.70 300.80L195.70 293.80"/>
<path d="M203.60 313.00H210.60M207.10 309.50V316.50M203.60 309.50L210.60 316.50M203.60 316.50L210.60 309.50"/>
<path d="M217.60 328.40H224.60M221.10 324.90V331.90M217.60 324.90L224.60 331.90M217.60 331.90L224.60 324.90"/>
<path d="M239.60 343.90H246.60M243.10 340.40V347.40M239.60 340.40L246.60 347.40M239.60 347.40L246.60 340.40"/>
<path d="M258.10 359.30H265.10M261.60 355.80V362.80M258.10 355.80L265.10 362.80M258.10 362.80L265.10 355.80"/>
<path d="M304.90 375.10H311.90M308.40 371.60V378.60M304.90 371.60L311.90 378.60M304.90 378.60L311.90 371.60"/>
<path d="M382.30 390.50H389.30M385.80 387.00V394.00M382.30 387.00L389.30 394.00M382.30 394.00L389.30 387.00"/>
</g>
<g fill="#000000">
<circle cx="157.50" cy="75.30" r="4.3"/>
<circle cx="162.40" cy="102.00" r="4.3"/>
<circle cx="168.50" cy="128.60" r="4.3"/>
<circle cx="175.50" cy="155.50" r="4.3"/>
<circle cx="182.90" cy="182.00" r="4.3"/>
<circle cx="192.00" cy="208.40" r="4.3"/>
<circle cx="203.50" cy="235.00" r="4.3"/>
<circle cx="217.30" cy="262.00" r="4.3"/>
<circle cx="235.60" cy="288.50" r="4.3"/>
<circle cx="261.40" cy="315.00" r="4.3"/>
<circle cx="302.50" cy="341.80" r="4.3"/>
</g>
<g fill="#56B4E9">
<rect x="184.15" y="70.95" width="8.7" height="8.7"/>
<rect x="192.25" y="97.65" width="8.7" height="8.7"/>
<rect x="200.25" y="124.25" width="8.7" height="8.7"/>
<rect x="210.65" y="151.15" width="8.7" height="8.7"/>
<rect x="221.35" y="177.65" width="8.7" height="8.7"/>
<rect x="237.45" y="204.05" width="8.7" height="8.7"/>
<rect x="254.25" y="230.65" width="8.7" height="8.7"/>
<rect x="275.55" y="257.65" width="8.7" height="8.7"/>
<rect x="307.45" y="284.05" width="8.7" height="8.7"/>
<rect x="345.55" y="310.55" width="8.7" height="8.7"/>
<rect x="415.85" y="337.05" width="8.7" height="8.7"/>
</g>
<g fill="none" stroke="#000" stroke-linecap="butt">
<path d="M587.76 124.44A74.00 10.90 0 0 1 732.84 124.44" stroke-width="1.45" stroke-dasharray="1.3 1.2"/>
<path d="M660.30 71.50L587.76 124.44A74.00 10.90 0 1 0 732.84 124.44Z" stroke-width="1.75" stroke-linejoin="round"/>
<path d="M660.30 49V148" stroke-width="1.65" stroke-dasharray="2.6 2.5"/>
<path d="M660.30 56.10A15 15 0 0 1 674.00 77.20" stroke-width="0.9"/>
</g>
<path d="M670.8 81.8L670.0 73.2L673.8 77.0L678.7 79.4Z" fill="#000"/>
<g stroke="#000" fill="none">
<path d="M95.85 421.50v-9.30M95.85 24.75v9.30M145.43 421.50v-4.50M145.43 24.75v4.50M195.01 421.50v-9.30M195.01 24.75v9.30M244.60 421.50v-4.50M244.60 24.75v4.50M294.18 421.50v-9.30M294.18 24.75v9.30M343.76 421.50v-4.50M343.76 24.75v4.50M393.34 421.50v-9.30M393.34 24.75v9.30M442.92 421.50v-4.50M442.92 24.75v4.50M492.51 421.50v-9.30M492.51 24.75v9.30M542.09 421.50v-4.50M542.09 24.75v4.50M591.67 421.50v-9.30M591.67 24.75v9.30M641.25 421.50v-4.50M641.25 24.75v4.50M690.84 421.50v-9.30M690.84 24.75v9.30M740.42 421.50v-4.50M740.42 24.75v4.50M790.00 421.50v-9.30M790.00 24.75v9.30M95.85 421.50h9.30M790.00 421.50h-9.30M95.85 364.82h4.50M790.00 364.82h-4.50M95.85 308.14h9.30M790.00 308.14h-9.30M95.85 251.46h4.50M790.00 251.46h-4.50M95.85 194.79h9.30M790.00 194.79h-9.30M95.85 138.11h4.50M790.00 138.11h-4.50M95.85 81.43h9.30M790.00 81.43h-9.30M95.85 24.75h4.50M790.00 24.75h-4.50" stroke-width="1.5"/>
<rect x="95.85" y="24.75" width="694.15" height="396.75" stroke-width="1.8"/>
</g>
</svg>
</body></html>
